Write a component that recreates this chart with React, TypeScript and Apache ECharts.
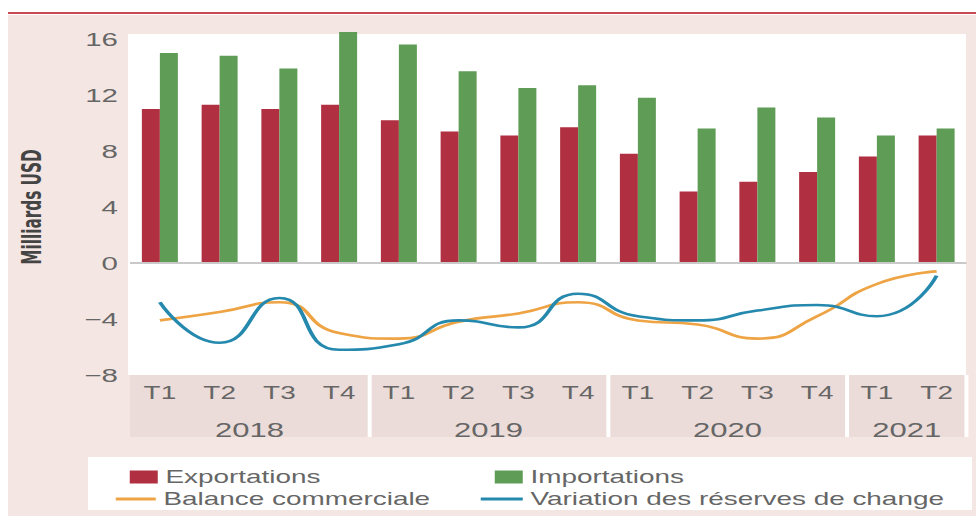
import React, { useEffect, useRef } from "react";
import * as echarts from "echarts";

// ---- data ----
const quarters = ["T1", "T2", "T3", "T4", "T1", "T2", "T3", "T4", "T1", "T2", "T3", "T4", "T1", "T2"];
const yearLabels = ["2018", "2019", "2020", "2021"];
const yearCenters = [2, 6, 10, 13]; // positions (in quarter units) of the year labels
const exportations = [11.0, 11.3, 11.0, 11.3, 10.2, 9.4, 9.1, 9.7, 7.8, 5.1, 5.8, 6.5, 7.6, 9.1];
const importations = [15.0, 14.8, 13.9, 16.5, 15.6, 13.7, 12.5, 12.7, 11.8, 9.6, 11.1, 10.4, 9.1, 9.6];
const balance = [-4.1, -3.5, -2.8, -5.0, -5.4, -4.2, -3.6, -2.8, -4.1, -4.4, -5.4, -3.8, -1.5, -0.6];
const variation = [-2.8, -5.7, -2.5, -6.2, -5.8, -4.1, -4.6, -2.2, -3.8, -4.1, -3.4, -3.0, -3.8, -0.9];
const yTicks = { min: -8, max: 16, interval: 4 };

// the reference picture is horizontally stretched
const S = 1.55;
const W = 976 / S;
const H = 516;
const X = (v: number) => v / S;

const FONT = "'Liberation Sans', Arial, Helvetica, sans-serif";
const TXT = "#666666";

export default function App() {
  const ref = useRef<HTMLDivElement>(null);

  useEffect(() => {
    if (!ref.current) return;
    const chart = echarts.init(ref.current, null, { renderer: "svg" });
    const legendText = { color: TXT, fontSize: 18, fontFamily: FONT };
    const option: any = {
      animation: false,
      textStyle: { fontFamily: FONT },
      graphic: [
        { type: "rect", z: -20, silent: true, shape: { x: X(8), y: 15, width: W, height: H }, style: { fill: "#f4e6e3" } },
        { type: "rect", z: -19, silent: true, shape: { x: X(8), y: 12, width: W, height: 2 }, style: { fill: "#c94a57" } },
        { type: "rect", z: -18, silent: true, shape: { x: X(128), y: 34, width: X(838), height: 341 }, style: { fill: "#ffffff" } },
        { type: "rect", z: -18, silent: true, shape: { x: X(130), y: 375, width: X(836), height: 62 }, style: { fill: "#ebdcd9" } },
        { type: "rect", z: -18, silent: true, shape: { x: X(88), y: 457, width: X(884), height: 53 }, style: { fill: "#ffffff" } },
        {
          type: "text",
          x: X(31),
          y: 207,
          rotation: Math.PI / 2,
          style: {
            text: "Milliards USD",
            fontSize: 17,
            fontWeight: "bold",
            fontFamily: "'Liberation Sans Narrow', 'DejaVu Sans Condensed', sans-serif",
            fill: "#444444",
            align: "center",
            verticalAlign: "middle",
          },
        },
      ],
      legend: [
        { data: ["Exportations"], left: X(122), top: 463, icon: "rect", itemWidth: X(28), itemHeight: 13, textStyle: legendText, selectedMode: false },
        { data: ["Importations"], left: X(487), top: 463, icon: "rect", itemWidth: X(28), itemHeight: 13, textStyle: legendText, selectedMode: false },
        { data: ["Balance commerciale"], left: X(108), top: 485, icon: "rect", itemWidth: X(40), itemHeight: 3, textStyle: legendText, selectedMode: false },
        { data: ["Variation des réserves de change"], left: X(473), top: 485, icon: "rect", itemWidth: X(42), itemHeight: 3, textStyle: legendText, selectedMode: false },
      ],
      grid: { left: X(130), right: X(10), top: 39, bottom: H - 375, containLabel: false },
      xAxis: [
        {
          type: "category",
          data: quarters,
          position: "bottom",
          boundaryGap: true,
          axisLine: { show: false, onZero: false },
          axisTick: {
            show: true,
            length: 62,
            interval: (i: number) => i === 4 || i === 8 || i === 12,
            lineStyle: { color: "#ffffff", width: X(4) },
          },
          axisLabel: { fontSize: 18, color: TXT, margin: 9, fontFamily: FONT },
          splitLine: { show: false },
        },
        {
          type: "value",
          min: 0,
          max: quarters.length,
          interval: 1,
          position: "bottom",
          offset: 0,
          axisLine: { show: false, onZero: false },
          axisTick: { show: false },
          splitLine: { show: false },
          axisLabel: {
            fontSize: 20,
            color: TXT,
            margin: 45,
            fontFamily: FONT,
            formatter: (v: number) => {
              const k = yearCenters.indexOf(v);
              return k >= 0 ? yearLabels[k] : "";
            },
          },
        },
      ],
      yAxis: {
        type: "value",
        min: yTicks.min,
        max: yTicks.max,
        interval: yTicks.interval,
        axisLine: { show: false },
        axisTick: { show: false },
        splitLine: { show: false },
        axisLabel: {
          fontSize: 19,
          color: TXT,
          margin: X(12),
          fontFamily: FONT,
          formatter: (v: number) => (v < 0 ? "\u2212" + Math.abs(v) : String(v)),
        },
      },
      series: [
        {
          name: "Exportations",
          type: "bar",
          data: exportations,
          barWidth: X(18),
          barGap: "0%",
          clip: false,
          itemStyle: { color: "#b02f41" },
          markLine: {
            silent: true,
            symbol: "none",
            label: { show: false },
            lineStyle: { color: "#c9c9c9", width: 2, type: "solid" },
            data: [{ yAxis: 0 }],
          },
        },
        {
          name: "Importations",
          type: "bar",
          data: importations,
          barWidth: X(18),
          clip: false,
          itemStyle: { color: "#5f9c56" },
        },
        {
          name: "Balance commerciale",
          type: "line",
          data: balance,
          smooth: 0.55,
          symbol: "none",
          z: 5,
          itemStyle: { color: "#eea444" },
          lineStyle: { color: "#eea444", width: 2.6 },
        },
        {
          name: "Variation des réserves de change",
          type: "line",
          data: variation,
          smooth: 0.55,
          symbol: "none",
          z: 6,
          itemStyle: { color: "#2589ae" },
          lineStyle: { color: "#2589ae", width: 2.6 },
        },
      ],
    };
    chart.setOption(option);
    return () => chart.dispose();
  }, []);

  return (
    <div style={{ position: "fixed", left: 0, top: 0, width: 976, height: H, overflow: "hidden", background: "#ffffff" }}>
      <div
        ref={ref}
        style={{ width: W, height: H, transform: `scaleX(${S})`, transformOrigin: "0 0" }}
      />
    </div>
  );
}
